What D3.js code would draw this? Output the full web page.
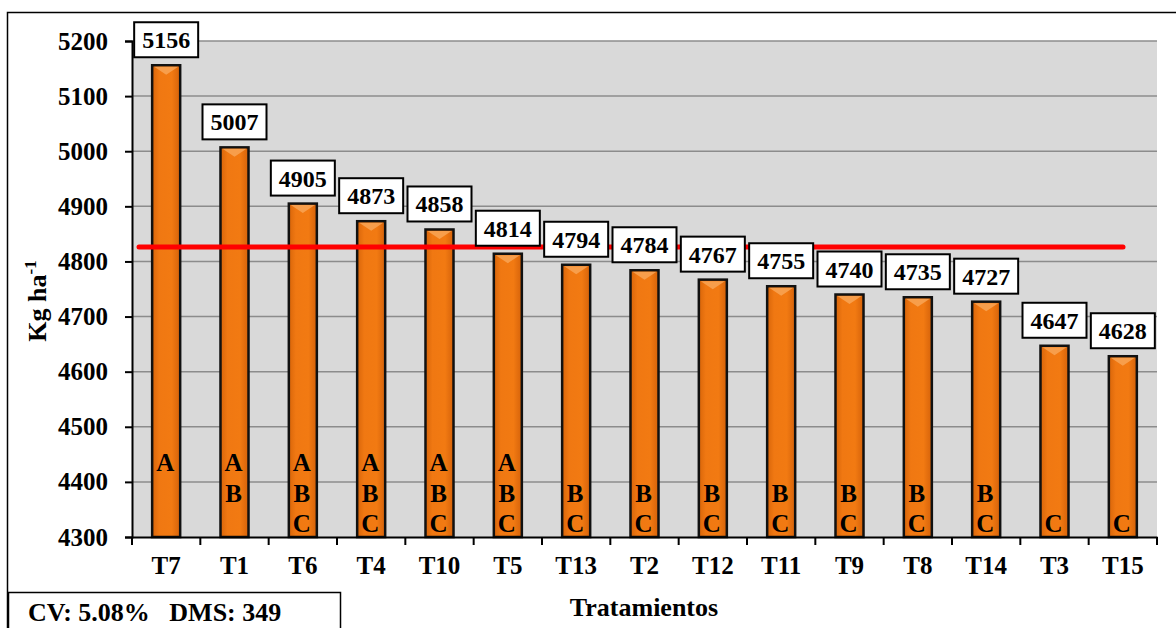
<!DOCTYPE html>
<html lang="en">
<head>
<meta charset="utf-8">
<title>Rendimiento por tratamiento</title>
<script src="https://d3js.org/d3.v7.min.js"></script>
<style>
  body { margin: 0; background: #fff; }
</style>
</head>
<body>
<script>
// data
const tratamientos = ["T7","T1","T6","T4","T10","T5","T13","T2","T12","T11","T9","T8","T14","T3","T15"];
const rendimiento = [5156,5007,4905,4873,4858,4814,4794,4784,4767,4755,4740,4735,4727,4647,4628];
const grupos = ["A","AB","ABC","ABC","ABC","ABC","BC","BC","BC","BC","BC","BC","BC","C","C"];
const yTicks = [4300,4400,4500,4600,4700,4800,4900,5000,5100,5200];
const media = 4826;
const nota = "CV: 5.08%   DMS: 349";

const W = 1176, H = 628;
const plotL = 132, plotR = 1157, plotT = 41, plotB = 537;
const serif = "'Liberation Serif', 'Times New Roman', Times, serif";

const svg = d3.select("body").append("svg")
  .attr("width", W).attr("height", H)
  .style("font-family", serif)
  .style("font-weight", "bold");

const defs = svg.append("defs");
const grad = defs.append("linearGradient").attr("id", "barGrad")
  .attr("x1", "0%").attr("x2", "100%").attr("y1", "0%").attr("y2", "0%");
grad.append("stop").attr("offset", "0%").attr("stop-color", "#d8650a");
grad.append("stop").attr("offset", "25%").attr("stop-color", "#f07812");
grad.append("stop").attr("offset", "70%").attr("stop-color", "#f27a12");
grad.append("stop").attr("offset", "100%").attr("stop-color", "#d5620a");

// outer frame
svg.append("rect")
  .attr("x", 7.5).attr("y", 12.5).attr("width", W).attr("height", H)
  .attr("fill", "none").attr("stroke", "#000").attr("stroke-width", 1.5);

const x = d3.scaleBand().domain(tratamientos).range([plotL, plotR]);
const y = d3.scaleLinear().domain([4300, 5200]).range([plotB, plotT]);

// plot background
svg.append("rect")
  .attr("x", plotL).attr("y", plotT)
  .attr("width", plotR - plotL).attr("height", plotB - plotT)
  .attr("fill", "#d9d9d9");

// gridlines
svg.append("g").selectAll("line")
  .data(yTicks.slice(1))
  .join("line")
  .attr("x1", plotL).attr("x2", plotR)
  .attr("y1", d => y(d)).attr("y2", d => y(d))
  .attr("stroke", "#8c8c8c").attr("stroke-width", 1.5);

// bars
const bw = x.bandwidth() * 0.41;
const bars = svg.append("g").selectAll("g")
  .data(tratamientos)
  .join("g");

bars.append("rect")
  .attr("x", d => x(d) + (x.bandwidth() - bw) / 2)
  .attr("y", (d, i) => y(rendimiento[i]))
  .attr("width", bw)
  .attr("height", (d, i) => plotB - y(rendimiento[i]))
  .attr("fill", "url(#barGrad)")
  .attr("stroke", "#111").attr("stroke-width", 2.5);

// top bevel
bars.append("path")
  .attr("d", (d, i) => {
    const x0 = x(d) + (x.bandwidth() - bw) / 2 + 2, x1 = x0 + bw - 4;
    const yt = y(rendimiento[i]) + 1.5;
    return `M${x0},${yt}L${x1},${yt}L${(x0 + x1) / 2},${yt + 8}Z`;
  })
  .attr("fill", "#f9a85a").attr("opacity", 0.8);

// letters inside bars
const rowOffset = { A: 66, B: 35, C: 5 };
bars.each(function(d, i) {
  const g = d3.select(this);
  grupos[i].split("").forEach(l => {
    g.append("text")
      .attr("x", x(d) + x.bandwidth() / 2 - 1)
      .attr("y", plotB - rowOffset[l])
      .attr("text-anchor", "middle")
      .style("font-family", serif)
      .style("font-size", "25px")
      .text(l);
  });
});

// mean line
svg.append("line")
  .attr("x1", plotL + 7).attr("x2", 1123)
  .attr("y1", y(media)).attr("y2", y(media))
  .attr("stroke", "#ff0000").attr("stroke-width", 5)
  .attr("stroke-linecap", "round");

// value labels
const lab = svg.append("g").selectAll("g")
  .data(tratamientos)
  .join("g")
  .attr("transform", (d, i) => `translate(${x(d) + x.bandwidth() / 2},${y(rendimiento[i]) - 8})`);

lab.append("rect")
  .attr("x", -32).attr("y", -35).attr("width", 64).attr("height", 35)
  .attr("fill", "#fff").attr("stroke", "#000").attr("stroke-width", 2);

lab.append("text")
  .attr("text-anchor", "middle")
  .attr("y", -9)
  .style("font-family", serif)
  .style("font-size", "24px")
  .text((d, i) => rendimiento[i]);

// y axis
const yAxis = svg.append("g")
  .attr("transform", `translate(${plotL},0)`)
  .call(d3.axisLeft(y).tickValues(yTicks).tickSize(7).tickPadding(17).tickFormat(d3.format("d")));
yAxis.select(".domain").attr("stroke", "#000").attr("stroke-width", 2);
yAxis.selectAll(".tick line").attr("stroke", "#000").attr("stroke-width", 2);
yAxis.selectAll(".tick text").style("font-family", serif).style("font-size", "25px");

// x axis
const xAxis = svg.append("g")
  .attr("transform", `translate(0,${plotB})`)
  .call(d3.axisBottom(x).tickSize(0).tickPadding(19));
xAxis.select(".domain").attr("stroke", "#000").attr("stroke-width", 2);
xAxis.selectAll(".tick text").style("font-family", serif).style("font-size", "25px");

// x boundary ticks
svg.append("g").selectAll("line")
  .data(tratamientos.concat(["end"]))
  .join("line")
  .attr("x1", d => d === "end" ? plotR : x(d))
  .attr("x2", d => d === "end" ? plotR : x(d))
  .attr("y1", plotB).attr("y2", plotB + 8)
  .attr("stroke", "#000").attr("stroke-width", 2);

// axis titles
svg.append("text")
  .attr("x", 644).attr("y", 616)
  .attr("text-anchor", "middle")
  .style("font-family", serif)
  .style("font-size", "26px")
  .text("Tratamientos");

const yt = svg.append("text")
  .attr("transform", "translate(46,301) rotate(-90)")
  .attr("text-anchor", "middle")
  .style("font-family", serif)
  .style("font-size", "26px");
yt.append("tspan").text("Kg ha");
yt.append("tspan").attr("dy", -10).style("font-size", "17px").text("-1");

// CV / DMS box
svg.append("rect")
  .attr("x", 8.5).attr("y", 592.5).attr("width", 332).attr("height", 60)
  .attr("fill", "#fff").attr("stroke", "#000").attr("stroke-width", 1.5);
svg.append("text")
  .attr("x", 28).attr("y", 621)
  .style("font-family", serif)
  .style("font-size", "26px")
  .style("white-space", "pre")
  .text(nota);
</script>
</body>
</html>
